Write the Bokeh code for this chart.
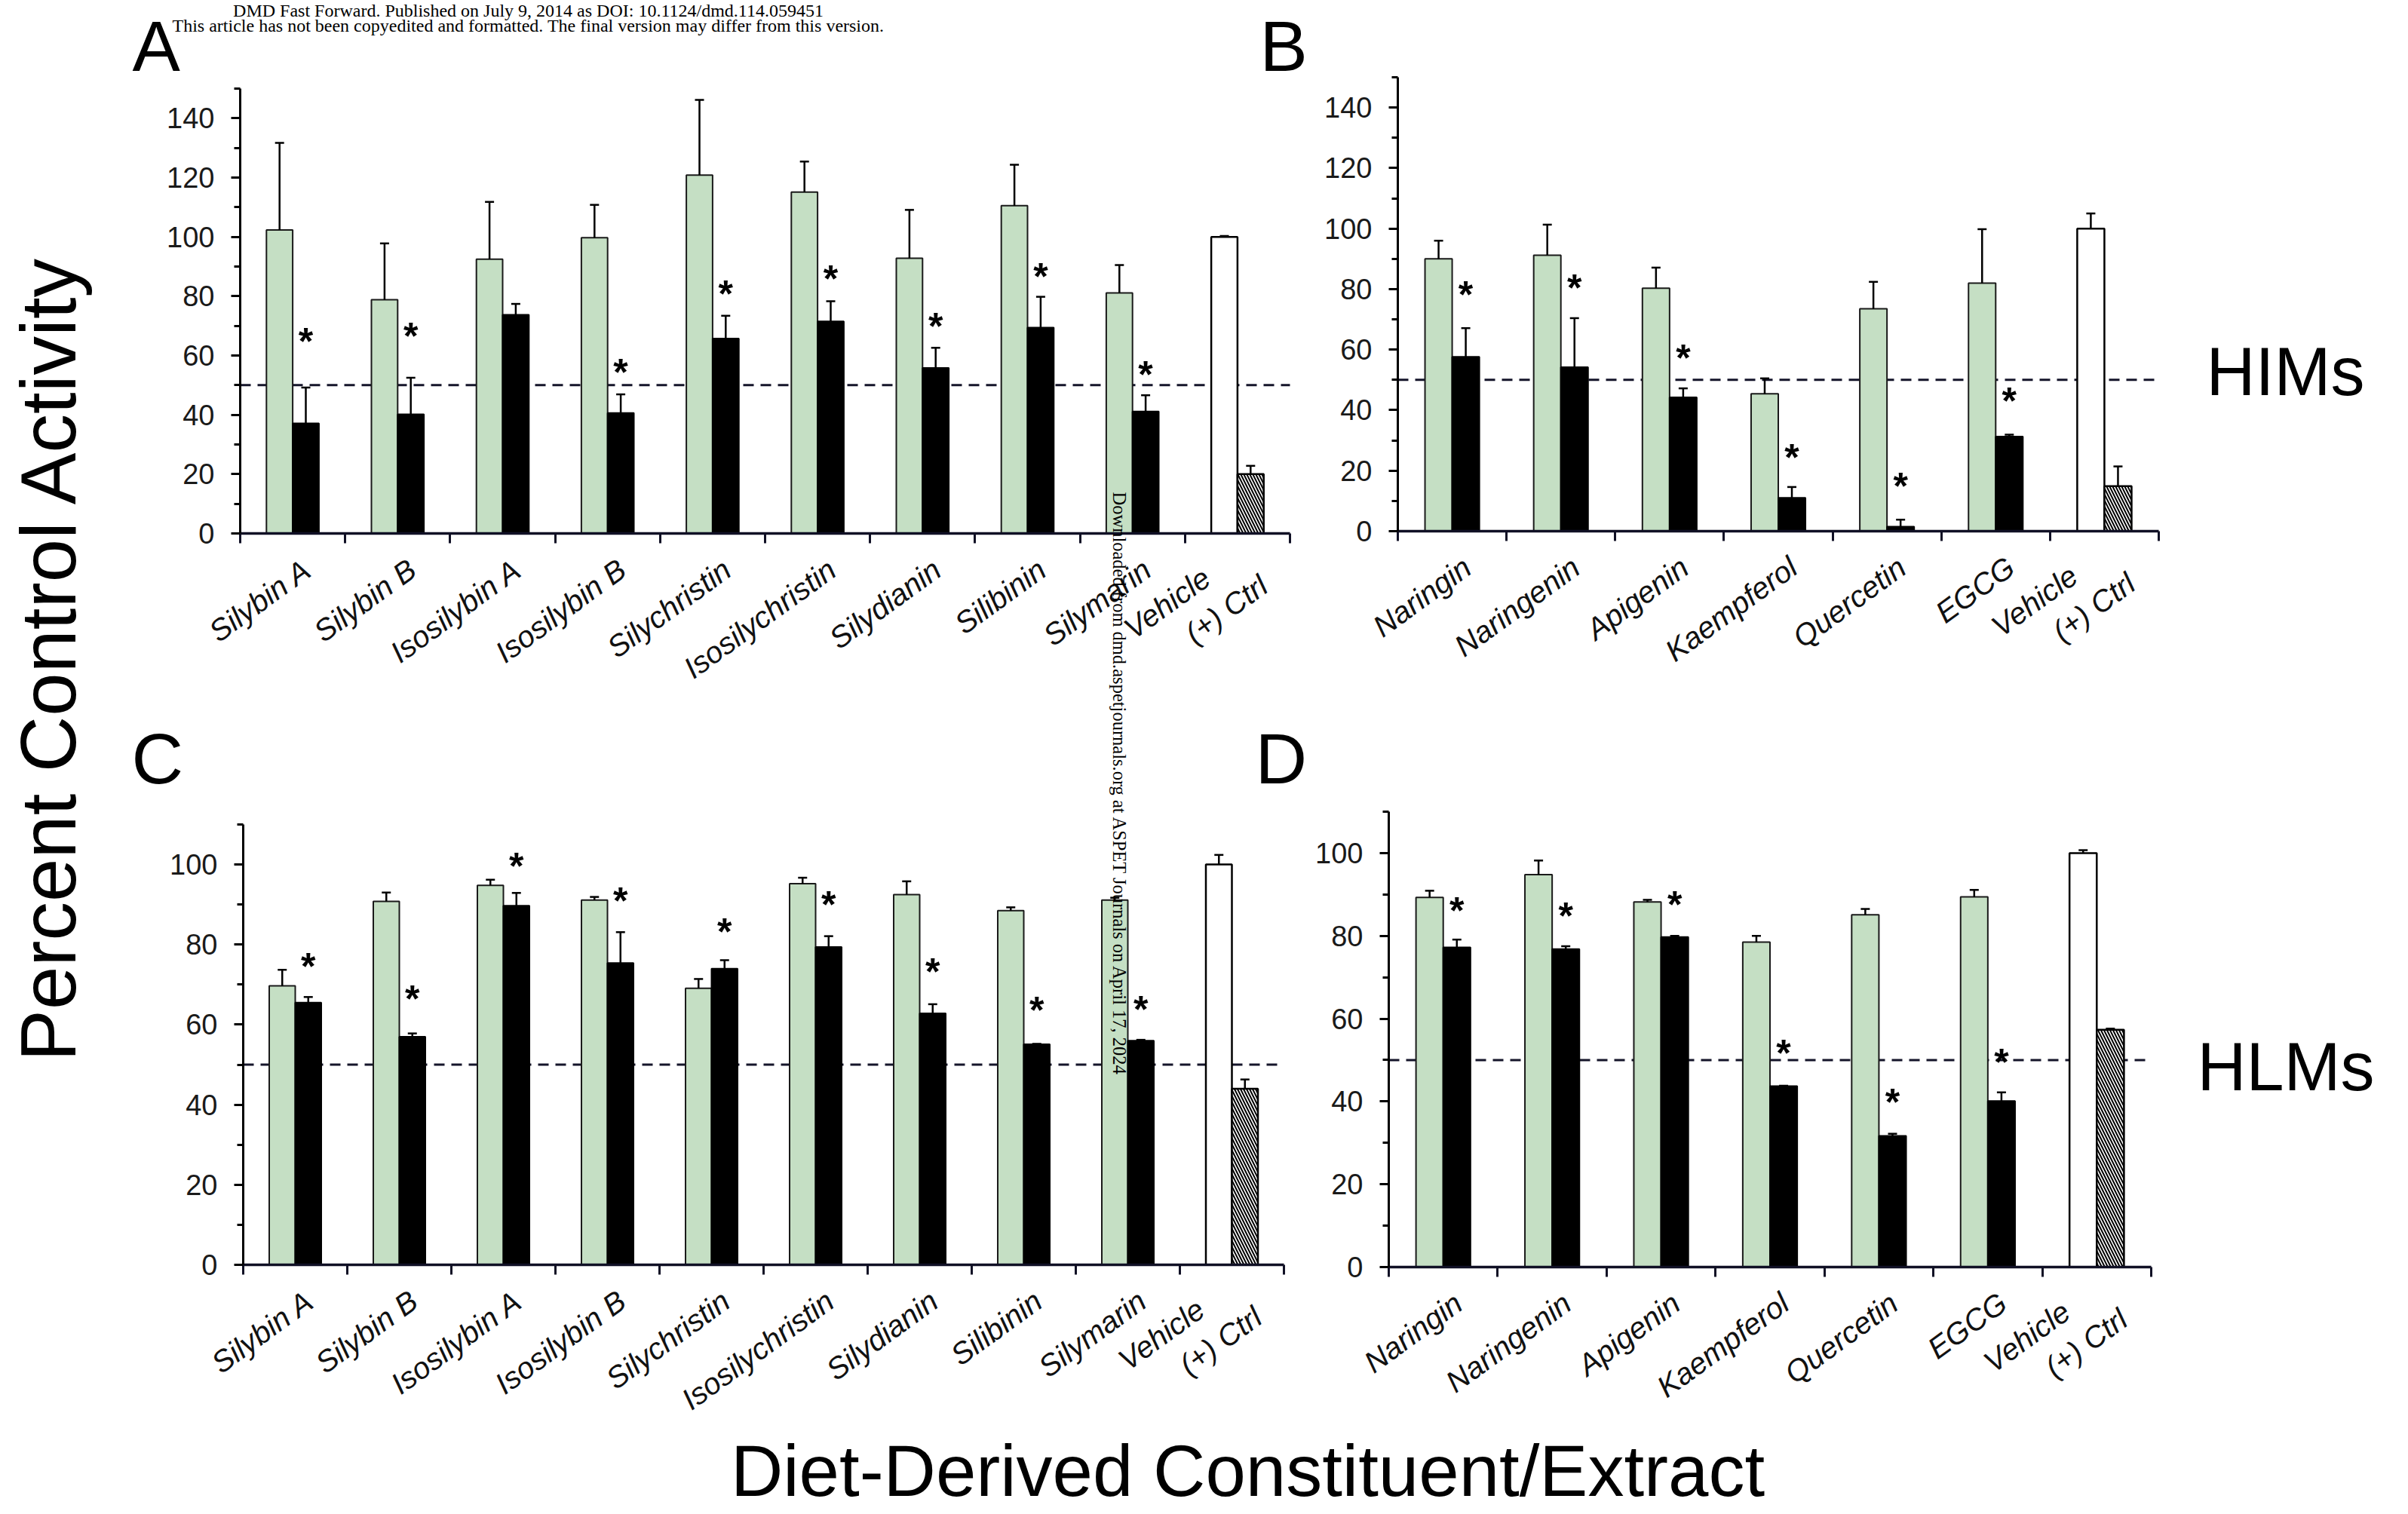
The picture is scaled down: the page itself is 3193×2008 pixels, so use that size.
import math
from bokeh.plotting import figure
from bokeh.models import Range1d, FixedTicker, Label, LinearAxis
from bokeh.embed import file_html
from bokeh.resources import INLINE
from bokeh.core.properties import value

# ---------------- data ----------------
sily_names = ["Silybin A", "Silybin B", "Isosilybin A", "Isosilybin B", "Silychristin",
              "Isosilychristin", "Silydianin", "Silibinin", "Silymarin"]
flav_names = ["Naringin", "Naringenin", "Apigenin", "Kaempferol", "Quercetin", "EGCG"]
ctrl_label = "Vehicle" + "\u00a0" * 5 + "\n(+) Ctrl"

# Panel A (HIMs, milk thistle constituents)
a_green = [102.3, 78.8, 92.5, 99.7, 120.8, 115.1, 92.8, 110.5, 81.1]
a_green_sd = [29.4, 19.0, 19.3, 11.1, 25.4, 10.3, 16.3, 13.8, 9.4]
a_black = [37.1, 40.2, 73.7, 40.6, 65.7, 71.5, 55.8, 69.4, 41.1]
a_black_sd = [12.1, 12.3, 3.7, 6.3, 7.7, 6.8, 6.8, 10.4, 5.5]
a_ctrl = [100.0, 20.0]
a_ctrl_sd = [0.3, 2.8]
a_star = [65.8, 67.4, None, 55.4, 81.8, 86.9, 70.9, 87.7, 54.6]

# Panel B (HIMs, flavonoids)
b_green = [90.0, 91.2, 80.3, 45.4, 73.5, 82.0]
b_green_sd = [6.0, 10.1, 6.8, 5.1, 8.9, 17.8]
b_black = [57.6, 54.2, 44.2, 11.0, 1.5, 31.3]
b_black_sd = [9.5, 16.2, 3.0, 3.6, 2.3, 0.6]
b_ctrl = [100.0, 14.9]
b_ctrl_sd = [5.0, 6.5]
b_star = [79.1, 81.4, 58.3, 25.2, 15.8, 44.0]

# Panel C (HLMs, milk thistle constituents)
c_green = [69.7, 90.8, 94.8, 91.1, 69.1, 95.2, 92.5, 88.5, 91.1]
c_green_sd = [4.0, 2.2, 1.4, 0.8, 2.3, 1.5, 3.3, 0.8, 0.6]
c_black = [65.5, 57.0, 89.7, 75.4, 74.0, 79.4, 62.8, 55.1, 56.0]
c_black_sd = [1.4, 0.8, 3.2, 7.7, 2.1, 2.7, 2.3, 0.1, 0.2]
c_ctrl = [100.0, 44.0]
c_ctrl_sd = [2.4, 2.3]
c_star = [75.2, 67.2, 100.3, 91.6, 84.0, 90.7, 73.9, 64.4, 64.6]

# Panel D (HLMs, flavonoids)
d_green = [89.3, 94.8, 88.2, 78.5, 85.1, 89.4]
d_green_sd = [1.6, 3.4, 0.5, 1.5, 1.4, 1.7]
d_black = [77.2, 76.8, 79.7, 43.7, 31.7, 40.1]
d_black_sd = [1.9, 0.7, 0.3, 0.1, 0.5, 2.1]
d_ctrl = [100.0, 57.3]
d_ctrl_sd = [0.7, 0.3]
d_star = [86.7, 85.5, 88.3, 52.3, 40.6, 50.2]

threshold = 50

# ---------------- style ----------------
W, H = 3185, 2006
GREEN = "#c5dfc4"
AXIS = "#101025"
DASH = "#15152a"
FONT = "Liberation Sans"
SERIF = "Liberation Serif"
BW = 0.25
LBL_SHIFT = 0.14

p = figure(width=W, height=H, x_range=Range1d(0, W), y_range=Range1d(H, 0),
           x_axis_type=None, y_axis_type=None, output_backend="svg",
           toolbar_location=None, title=None, min_border=0)
p.outline_line_color = None
p.background_fill_color = "white"
p.border_fill_color = "white"

# panel frames on the page: (left px, right px, bottom px, top px), y max
panels = [
    ("a", sily_names, a_green, a_green_sd, a_black, a_black_sd, a_ctrl, a_ctrl_sd, a_star, 150,
     (318, 1710, 707, 117)),
    ("b", flav_names, b_green, b_green_sd, b_black, b_black_sd, b_ctrl, b_ctrl_sd, b_star, 150,
     (1853, 2862, 704, 102)),
    ("c", sily_names, c_green, c_green_sd, c_black, c_black_sd, c_ctrl, c_ctrl_sd, c_star, 110,
     (322, 1702, 1677, 1093)),
    ("d", flav_names, d_green, d_green_sd, d_black, d_black_sd, d_ctrl, d_ctrl_sd, d_star, 110,
     (1841, 2852, 1680, 1076)),
]

xr, yr = {}, {}
for key, names, *_rest in panels:
    ymax, (fx0, fx1, fyb, fyt) = _rest[-2], _rest[-1]
    n = len(names) + 1
    kx = n / (fx1 - fx0)
    ky = ymax / (fyb - fyt)
    xr[key + "x"] = Range1d(start=-fx0 * kx, end=(W - fx0) * kx)
    yr[key + "y"] = Range1d(start=(fyb - H) * ky, end=fyb * ky)
p.extra_x_ranges = xr
p.extra_y_ranges = yr


def draw_panel(key, names, g, gsd, k, ksd, ctrl, ctrl_sd, stars, ymax, frame):
    fx0, fx1, fyb, fyt = frame
    n = len(names) + 1
    kx = n / (fx1 - fx0)
    rn = dict(x_range_name=key + "x", y_range_name=key + "y")

    # 50 % reference line
    p.line(x=[0, n], y=[threshold, threshold], line_color=DASH, line_width=3,
           line_dash="14 9", **rn)

    xc = [i + 0.5 for i in range(n - 1)]
    xg = [c - BW / 2 for c in xc]
    xk = [c + BW / 2 for c in xc]
    p.vbar(x=xg, top=g, width=BW, fill_color=GREEN, line_color="#1a1a1a", line_width=2, **rn)
    p.vbar(x=xk, top=k, width=BW, fill_color="black", line_color="black", line_width=2, **rn)
    xv = n - 0.5 - BW / 2
    xp = n - 0.5 + BW / 2
    p.vbar(x=[xv], top=[ctrl[0]], width=BW, fill_color="white", line_color="black",
           line_width=2.5, **rn)
    p.vbar(x=[xp], top=[ctrl[1]], width=BW, fill_color="white", line_color="black",
           line_width=2.5, hatch_pattern="\\", hatch_color="black", hatch_weight=2,
           hatch_scale=8, **rn)

    # upward error bars with caps
    bx = xg + xk + [xv, xp]
    lo = list(g) + list(k) + list(ctrl)
    sds = list(gsd) + list(ksd) + list(ctrl_sd)
    hi = [m + s for m, s in zip(lo, sds)]
    cap = 6 * kx
    p.segment(x0=bx, y0=lo, x1=bx, y1=hi, line_color="black", line_width=2.5, **rn)
    p.segment(x0=[b - cap for b in bx], y0=hi, x1=[b + cap for b in bx], y1=hi,
              line_color="black", line_width=2.5, **rn)

    # significance stars
    sx = [xk[i] for i, s in enumerate(stars) if s is not None]
    sy = [s for s in stars if s is not None]
    p.text(x=sx, y=sy, text=["*"] * len(sx), text_font=value(FONT), text_font_style="bold",
           text_font_size="50px", text_align="center", text_baseline="alphabetic",
           y_offset=4, text_color="black", **rn)

    # category axis (ticks at category boundaries, labels at centres)
    label_ticks = [i + 0.5 + LBL_SHIFT for i in range(n)]
    xa = LinearAxis(fixed_location=0, bounds=(0, n),
                    ticker=FixedTicker(ticks=label_ticks, minor_ticks=list(range(n + 1))),
                    major_label_overrides={t: lab for t, lab in zip(label_ticks, names + [ctrl_label])},
                    major_tick_out=0, major_tick_in=0, minor_tick_out=13, minor_tick_in=0,
                    minor_tick_line_width=3, minor_tick_line_color=AXIS,
                    axis_line_width=3.5, axis_line_color=AXIS,
                    major_label_orientation=math.radians(36),
                    major_label_text_font=FONT, major_label_text_font_style="italic",
                    major_label_text_font_size="40px", major_label_text_color="#111111",
                    major_label_standoff=30, **rn)
    p.add_layout(xa, "below")

    top_major = (ymax // 20) * 20
    ya = LinearAxis(fixed_location=0, bounds=(0, ymax),
                    ticker=FixedTicker(ticks=list(range(0, top_major + 1, 20)),
                                       minor_ticks=list(range(10, ymax + 1, 20))),
                    major_tick_out=12, major_tick_in=0, minor_tick_out=8, minor_tick_in=0,
                    major_tick_line_width=3, minor_tick_line_width=3,
                    major_tick_line_color="black", minor_tick_line_color="black",
                    axis_line_width=3, axis_line_color="black",
                    major_label_text_font=FONT, major_label_text_font_size="38px",
                    major_label_text_color="#1a1a1a", major_label_standoff=22, **rn)
    p.add_layout(ya, "left")


for spec in panels:
    draw_panel(*spec)


def lab(x, y, text, size, **kw):
    d = dict(x=x, y=y, text=text, text_font=FONT, text_font_size=size, text_color="black",
             text_align="left", text_baseline="alphabetic")
    d.update(kw)
    p.add_layout(Label(**d))


# panel letters
lab(175, 60, "A", "95px")
lab(1670, 60, "B", "95px")
lab(174, 1005, "C", "95px")
lab(1664, 1005, "D", "95px")
# microsome labels
lab(2925, 492, "HIMs", "90px")
lab(2913, 1414, "HLMs", "90px")
# journal header
lab(700, 13.4, "DMD Fast Forward. Published on July 9, 2014 as DOI: 10.1124/dmd.114.059451",
    "24px", text_font=SERIF, text_align="center")
lab(700, 33.4, "This article has not been copyedited and formatted. The final version may differ from this version.",
    "24px", text_font=SERIF, text_align="center")
# download watermark
lab(1484, 652, "Downloaded from dmd.aspetjournals.org at ASPET Journals on April 17, 2024",
    "24.5px", text_font=SERIF, angle=-math.pi / 2)
# axis titles
lab(64, 872, "Percent Control Activity", "103px", angle=math.pi / 2, text_align="center")
lab(1654, 1950, "Diet-Derived Constituent/Extract", "96px", text_align="center")

open("out.html", "w").write(file_html(p, INLINE))
